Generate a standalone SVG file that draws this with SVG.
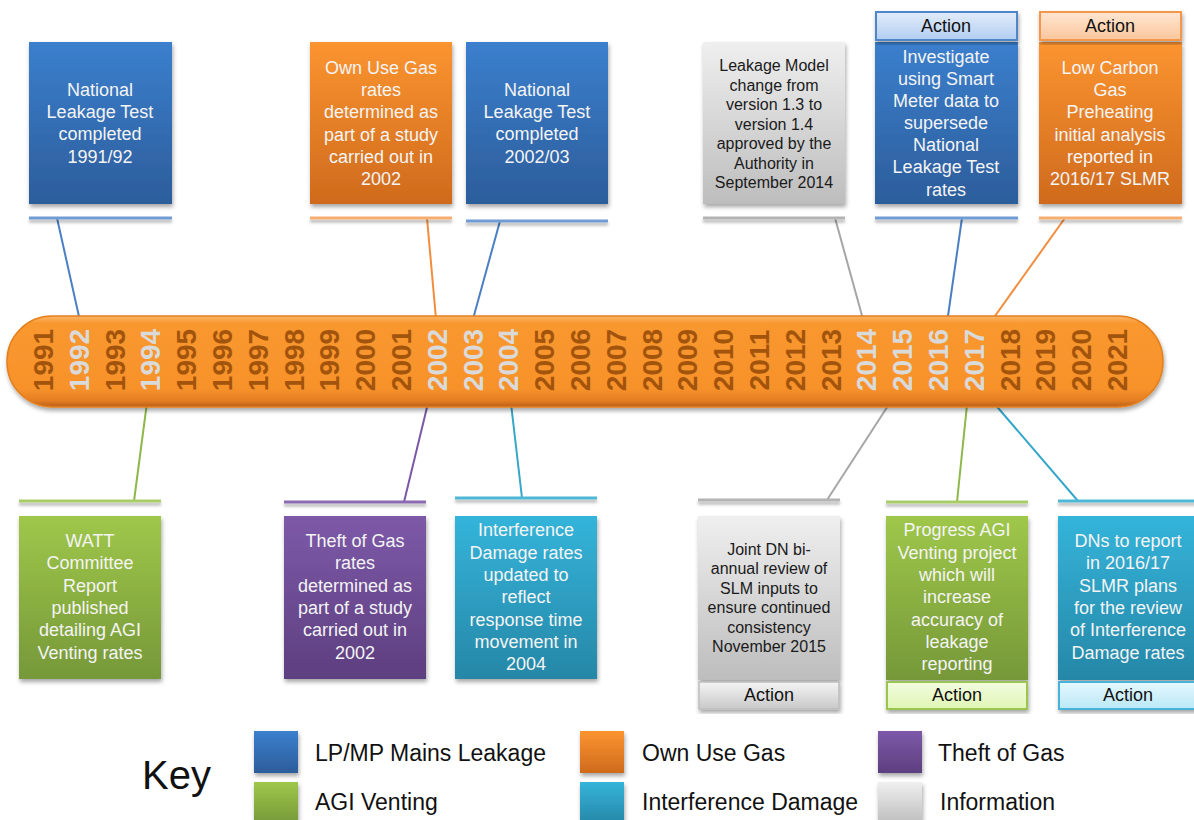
<svg xmlns="http://www.w3.org/2000/svg" width="1194" height="820" viewBox="0 0 1194 820">
<defs>
<linearGradient id="gBlue" x1="0" y1="0" x2="0" y2="1"><stop offset="0" stop-color="#3b7fcd"/><stop offset="1" stop-color="#2c5d9b"/></linearGradient>
<linearGradient id="gOrange" x1="0" y1="0" x2="0" y2="1"><stop offset="0" stop-color="#fb9430"/><stop offset="1" stop-color="#cf6a1d"/></linearGradient>
<linearGradient id="gGreen" x1="0" y1="0" x2="0" y2="1"><stop offset="0" stop-color="#9fc74a"/><stop offset="1" stop-color="#769839"/></linearGradient>
<linearGradient id="gPurple" x1="0" y1="0" x2="0" y2="1"><stop offset="0" stop-color="#7d59a8"/><stop offset="1" stop-color="#5d3f7f"/></linearGradient>
<linearGradient id="gTeal" x1="0" y1="0" x2="0" y2="1"><stop offset="0" stop-color="#34b4da"/><stop offset="1" stop-color="#2687a7"/></linearGradient>
<linearGradient id="gGrey" x1="0" y1="0" x2="0" y2="1"><stop offset="0" stop-color="#efefef"/><stop offset="1" stop-color="#bdbdbd"/></linearGradient>
<linearGradient id="hBlue" x1="0" y1="0" x2="0" y2="1"><stop offset="0" stop-color="#e2ecfa"/><stop offset="1" stop-color="#b2cdf1"/></linearGradient>
<linearGradient id="hOrange" x1="0" y1="0" x2="0" y2="1"><stop offset="0" stop-color="#fee6d2"/><stop offset="1" stop-color="#fbc69b"/></linearGradient>
<linearGradient id="hGrey" x1="0" y1="0" x2="0" y2="1"><stop offset="0" stop-color="#f4f4f4"/><stop offset="1" stop-color="#c9c9c9"/></linearGradient>
<linearGradient id="hGreen" x1="0" y1="0" x2="0" y2="1"><stop offset="0" stop-color="#f3fce0"/><stop offset="1" stop-color="#dff6b4"/></linearGradient>
<linearGradient id="hTeal" x1="0" y1="0" x2="0" y2="1"><stop offset="0" stop-color="#e6f8fe"/><stop offset="1" stop-color="#b9e8f7"/></linearGradient>
<linearGradient id="gBar" x1="0" y1="0" x2="0" y2="1"><stop offset="0" stop-color="#fbb56a"/><stop offset="0.08" stop-color="#f9982f"/><stop offset="0.8" stop-color="#f7922b"/><stop offset="0.93" stop-color="#e57d22"/><stop offset="1" stop-color="#b9601a"/></linearGradient>
<filter id="sh" x="-10%" y="-10%" width="125%" height="125%"><feDropShadow dx="1" dy="3" stdDeviation="2" flood-color="#000" flood-opacity="0.35"/></filter>
<filter id="shl" filterUnits="userSpaceOnUse" x="0" y="0" width="1194" height="820"><feDropShadow dx="0" dy="3" stdDeviation="1.5" flood-color="#000" flood-opacity="0.3"/></filter>
</defs>
<style>
text { font-family: "Liberation Sans", Arial, sans-serif; }
.t { font-size: 18px; fill: #f4f4f4; text-anchor: middle; }
.td { font-size: 16px; fill: #1a1a1a; text-anchor: middle; }
.act { font-size: 18px; fill: #111; text-anchor: middle; }
.yr { font-size: 28px; font-weight: bold; fill: #a3540c; text-anchor: middle; }
.yh { fill: #dadada; }
.key { font-size: 23px; fill: #111; }
.ul { filter: url(#shl); }
.cn { stroke-width: 2; fill: none; }
</style>
<rect width="1194" height="820" fill="#fff"/>

<g id="connectors">
<line class="cn" x1="57" y1="218" x2="82" y2="330" stroke="#4a7fc4"/>
<line class="cn" x1="427" y1="218" x2="437" y2="330" stroke="#f38d3e"/>
<line class="cn" x1="500" y1="221" x2="470" y2="330" stroke="#4a7fc4"/>
<line class="cn" x1="835" y1="218" x2="866" y2="330" stroke="#a6a6a6"/>
<line class="cn" x1="962" y1="218" x2="946" y2="330" stroke="#4a7fc4"/>
<line class="cn" x1="1065" y1="218" x2="985" y2="330" stroke="#f38d3e"/>
<line class="cn" x1="148" y1="395" x2="134" y2="501" stroke="#8db84a"/>
<line class="cn" x1="430" y1="395" x2="404" y2="502" stroke="#7b58a6"/>
<line class="cn" x1="510" y1="395" x2="522" y2="498" stroke="#36a6c9"/>
<line class="cn" x1="895" y1="395" x2="827" y2="500" stroke="#a6a6a6"/>
<line class="cn" x1="968" y1="395" x2="957" y2="502" stroke="#8db84a"/>
<line class="cn" x1="987" y1="395" x2="1078" y2="501" stroke="#36a6c9"/>
<rect class="ul" x="29" y="216.5" width="143" height="3" fill="#6f9bd3"/>
<rect class="ul" x="310" y="216.5" width="142" height="3" fill="#f8ad70"/>
<rect class="ul" x="466" y="219.5" width="142" height="3" fill="#6f9bd3"/>
<rect class="ul" x="703" y="216.5" width="142" height="3" fill="#b3b3b3"/>
<rect class="ul" x="875" y="216.5" width="143" height="3" fill="#6f9bd3"/>
<rect class="ul" x="1039" y="216.5" width="143" height="3" fill="#f8ad70"/>
<rect class="ul" x="19" y="499.5" width="142" height="3" fill="#a8cc6a"/>
<rect class="ul" x="284" y="500.5" width="142" height="3" fill="#8a6bb1"/>
<rect class="ul" x="455" y="496.5" width="142" height="3" fill="#4fb7d6"/>
<rect class="ul" x="698" y="498.5" width="142" height="3" fill="#b3b3b3"/>
<rect class="ul" x="886" y="500.5" width="142" height="3" fill="#a8cc6a"/>
<rect class="ul" x="1058" y="499.5" width="142" height="3" fill="#4fb7d6"/>
</g>

<g id="timeline">
<rect x="7" y="316" width="1156" height="91" rx="45" ry="45" fill="url(#gBar)" stroke="#e4801f" stroke-width="1.5" filter="url(#sh)"/>
<g transform="translate(0,360)">
<text class="yr" transform="translate(43,0) rotate(-90)" dy="0.35em">1991</text>
<text class="yr yh" transform="translate(79,0) rotate(-90)" dy="0.35em">1992</text>
<text class="yr" transform="translate(115,0) rotate(-90)" dy="0.35em">1993</text>
<text class="yr yh" transform="translate(150,0) rotate(-90)" dy="0.35em">1994</text>
<text class="yr" transform="translate(186,0) rotate(-90)" dy="0.35em">1995</text>
<text class="yr" transform="translate(222,0) rotate(-90)" dy="0.35em">1996</text>
<text class="yr" transform="translate(258,0) rotate(-90)" dy="0.35em">1997</text>
<text class="yr" transform="translate(294,0) rotate(-90)" dy="0.35em">1998</text>
<text class="yr" transform="translate(329,0) rotate(-90)" dy="0.35em">1999</text>
<text class="yr" transform="translate(365,0) rotate(-90)" dy="0.35em">2000</text>
<text class="yr" transform="translate(401,0) rotate(-90)" dy="0.35em">2001</text>
<text class="yr yh" transform="translate(437,0) rotate(-90)" dy="0.35em">2002</text>
<text class="yr yh" transform="translate(473,0) rotate(-90)" dy="0.35em">2003</text>
<text class="yr yh" transform="translate(508,0) rotate(-90)" dy="0.35em">2004</text>
<text class="yr" transform="translate(544,0) rotate(-90)" dy="0.35em">2005</text>
<text class="yr" transform="translate(580,0) rotate(-90)" dy="0.35em">2006</text>
<text class="yr" transform="translate(616,0) rotate(-90)" dy="0.35em">2007</text>
<text class="yr" transform="translate(652,0) rotate(-90)" dy="0.35em">2008</text>
<text class="yr" transform="translate(687,0) rotate(-90)" dy="0.35em">2009</text>
<text class="yr" transform="translate(723,0) rotate(-90)" dy="0.35em">2010</text>
<text class="yr" transform="translate(759,0) rotate(-90)" dy="0.35em">2011</text>
<text class="yr" transform="translate(795,0) rotate(-90)" dy="0.35em">2012</text>
<text class="yr" transform="translate(831,0) rotate(-90)" dy="0.35em">2013</text>
<text class="yr yh" transform="translate(866,0) rotate(-90)" dy="0.35em">2014</text>
<text class="yr yh" transform="translate(902,0) rotate(-90)" dy="0.35em">2015</text>
<text class="yr yh" transform="translate(938,0) rotate(-90)" dy="0.35em">2016</text>
<text class="yr yh" transform="translate(974,0) rotate(-90)" dy="0.35em">2017</text>
<text class="yr" transform="translate(1010,0) rotate(-90)" dy="0.35em">2018</text>
<text class="yr" transform="translate(1045,0) rotate(-90)" dy="0.35em">2019</text>
<text class="yr" transform="translate(1081,0) rotate(-90)" dy="0.35em">2020</text>
<text class="yr" transform="translate(1117,0) rotate(-90)" dy="0.35em">2021</text>
</g>
</g>

<g id="node-nlt-1991">
<rect x="29" y="42" width="143" height="162" fill="url(#gBlue)" filter="url(#sh)"/>
<text class="t" x="100" y="96">National</text>
<text class="t" x="100" y="118">Leakage Test</text>
<text class="t" x="100" y="140">completed</text>
<text class="t" x="100" y="163">1991/92</text>
</g>

<g id="node-own-use-2002">
<rect x="310" y="42" width="142" height="162" fill="url(#gOrange)" filter="url(#sh)"/>
<text class="t" x="381" y="74">Own Use Gas</text>
<text class="t" x="381" y="96">rates</text>
<text class="t" x="381" y="118">determined as</text>
<text class="t" x="381" y="141">part of a study</text>
<text class="t" x="381" y="163">carried out in</text>
<text class="t" x="381" y="185">2002</text>
</g>

<g id="node-nlt-2002">
<rect x="466" y="42" width="142" height="162" fill="url(#gBlue)" filter="url(#sh)"/>
<text class="t" x="537" y="96">National</text>
<text class="t" x="537" y="118">Leakage Test</text>
<text class="t" x="537" y="140">completed</text>
<text class="t" x="537" y="163">2002/03</text>
</g>

<g id="node-model-2014">
<rect x="703" y="42" width="142" height="162" fill="url(#gGrey)" filter="url(#sh)"/>
<text class="td" x="774" y="70.5">Leakage Model</text>
<text class="td" x="774" y="90.5">change from</text>
<text class="td" x="774" y="109.5">version 1.3 to</text>
<text class="td" x="774" y="129.5">version 1.4</text>
<text class="td" x="774" y="148.5">approved by the</text>
<text class="td" x="774" y="168.5">Authority in</text>
<text class="td" x="774" y="187.5">September 2014</text>
</g>

<g id="node-smart-meter">
<rect x="875" y="42" width="143" height="162" fill="url(#gBlue)" filter="url(#sh)"/>
<rect x="876" y="12" width="141" height="28" fill="url(#hBlue)" stroke="#4f86c8" stroke-width="2" filter="url(#sh)"/>
<text class="act" x="946" y="32">Action</text>
<text class="t" x="946" y="63">Investigate</text>
<text class="t" x="946" y="85">using Smart</text>
<text class="t" x="946" y="107">Meter data to</text>
<text class="t" x="946" y="129">supersede</text>
<text class="t" x="946" y="151">National</text>
<text class="t" x="946" y="173">Leakage Test</text>
<text class="t" x="946" y="196">rates</text>
</g>

<g id="node-low-carbon">
<rect x="1039" y="42" width="143" height="162" fill="url(#gOrange)" filter="url(#sh)"/>
<rect x="1040" y="12" width="141" height="28" fill="url(#hOrange)" stroke="#f5974c" stroke-width="2" filter="url(#sh)"/>
<text class="act" x="1110" y="32">Action</text>
<text class="t" x="1110" y="74">Low Carbon</text>
<text class="t" x="1110" y="96">Gas</text>
<text class="t" x="1110" y="118">Preheating</text>
<text class="t" x="1110" y="141">initial analysis</text>
<text class="t" x="1110" y="163">reported in</text>
<text class="t" x="1110" y="185">2016/17 SLMR</text>
</g>

<g id="node-watt">
<rect x="19" y="516" width="142" height="163" fill="url(#gGreen)" filter="url(#sh)"/>
<text class="t" x="90" y="547">WATT</text>
<text class="t" x="90" y="569">Committee</text>
<text class="t" x="90" y="592">Report</text>
<text class="t" x="90" y="614">published</text>
<text class="t" x="90" y="636">detailing AGI</text>
<text class="t" x="90" y="659">Venting rates</text>
</g>

<g id="node-theft-2002">
<rect x="284" y="516" width="142" height="163" fill="url(#gPurple)" filter="url(#sh)"/>
<text class="t" x="355" y="547">Theft of Gas</text>
<text class="t" x="355" y="569">rates</text>
<text class="t" x="355" y="592">determined as</text>
<text class="t" x="355" y="614">part of a study</text>
<text class="t" x="355" y="636">carried out in</text>
<text class="t" x="355" y="659">2002</text>
</g>

<g id="node-interference-2004">
<rect x="455" y="516" width="142" height="163" fill="url(#gTeal)" filter="url(#sh)"/>
<text class="t" x="526" y="536">Interference</text>
<text class="t" x="526" y="559">Damage rates</text>
<text class="t" x="526" y="581">updated to</text>
<text class="t" x="526" y="603">reflect</text>
<text class="t" x="526" y="626">response time</text>
<text class="t" x="526" y="648">movement in</text>
<text class="t" x="526" y="670">2004</text>
</g>

<g id="node-joint-review">
<rect x="698" y="516" width="142" height="164" fill="url(#gGrey)" filter="url(#sh)"/>
<rect x="699" y="682" width="140" height="27" fill="url(#hGrey)" stroke="#bdbdbd" stroke-width="1.5" filter="url(#sh)"/>
<text class="td" x="769" y="554.5">Joint DN bi-</text>
<text class="td" x="769" y="573.5">annual review of</text>
<text class="td" x="769" y="593.5">SLM inputs to</text>
<text class="td" x="769" y="612.5">ensure continued</text>
<text class="td" x="769" y="632.5">consistency</text>
<text class="td" x="769" y="651.5">November 2015</text>
<text class="act" x="769" y="701">Action</text>
</g>

<g id="node-agi-project">
<rect x="886" y="516" width="142" height="164" fill="url(#gGreen)" filter="url(#sh)"/>
<rect x="887" y="682" width="140" height="27" fill="url(#hGreen)" stroke="#9cc451" stroke-width="2" filter="url(#sh)"/>
<text class="t" x="957" y="536">Progress AGI</text>
<text class="t" x="957" y="559">Venting project</text>
<text class="t" x="957" y="581">which will</text>
<text class="t" x="957" y="603">increase</text>
<text class="t" x="957" y="626">accuracy of</text>
<text class="t" x="957" y="648">leakage</text>
<text class="t" x="957" y="670">reporting</text>
<text class="act" x="957" y="701">Action</text>
</g>

<g id="node-dns-report">
<rect x="1058" y="516" width="142" height="164" fill="url(#gTeal)" filter="url(#sh)"/>
<rect x="1059" y="682" width="140" height="27" fill="url(#hTeal)" stroke="#47b3d8" stroke-width="2" filter="url(#sh)"/>
<text class="t" x="1128" y="547">DNs to report</text>
<text class="t" x="1128" y="569">in 2016/17</text>
<text class="t" x="1128" y="592">SLMR plans</text>
<text class="t" x="1128" y="614">for the review</text>
<text class="t" x="1128" y="636">of Interference</text>
<text class="t" x="1128" y="659">Damage rates</text>
<text class="act" x="1128" y="701">Action</text>
</g>

<g id="key">
<text x="142" y="789" font-size="40" fill="#111">Key</text>
<rect x="254" y="731" width="44" height="42" fill="url(#gBlue)" filter="url(#sh)"/>
<rect x="254" y="782" width="44" height="42" fill="url(#gGreen)" filter="url(#sh)"/>
<rect x="580" y="731" width="44" height="42" fill="url(#gOrange)" filter="url(#sh)"/>
<rect x="580" y="782" width="44" height="42" fill="url(#gTeal)" filter="url(#sh)"/>
<rect x="878" y="731" width="44" height="42" fill="url(#gPurple)" filter="url(#sh)"/>
<rect x="878" y="782" width="44" height="42" fill="url(#gGrey)" filter="url(#sh)"/>
<text class="key" x="315" y="761">LP/MP Mains Leakage</text>
<text class="key" x="315" y="810">AGI Venting</text>
<text class="key" x="642" y="761">Own Use Gas</text>
<text class="key" x="642" y="810">Interference Damage</text>
<text class="key" x="938" y="761">Theft of Gas</text>
<text class="key" x="940" y="810">Information</text>
</g>
</svg>
